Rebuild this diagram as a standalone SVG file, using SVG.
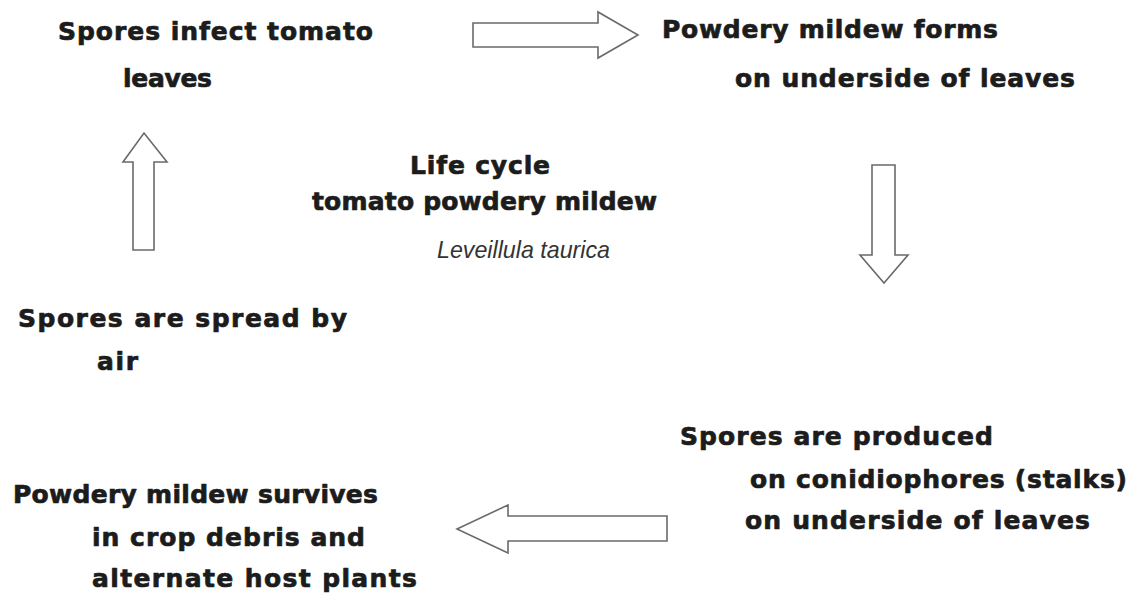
<svg xmlns="http://www.w3.org/2000/svg" width="1134" height="601" viewBox="0 0 1134 601">
<style>
.t{font-family:"DejaVu Sans","Liberation Sans",sans-serif;font-weight:bold;font-size:25px;fill:#1c1c1c;stroke:#1c1c1c;stroke-width:0.7;stroke-linejoin:round}
.it{font-family:"Liberation Sans","DejaVu Sans",sans-serif;font-style:italic;font-size:24px;fill:#333}
.arr{fill:#fff;stroke:#6a6a6a;stroke-width:1.6;stroke-linejoin:miter}
</style>
<rect width="1134" height="601" fill="#fff"/>
<g id="connectors">
<polygon class="arr" points="473,23 598,23 598,12 638,35 598,58 598,47 473,47"/>
<polygon class="arr" points="872,165 895,165 895,255 908,255 884,283 860,255 872,255"/>
<polygon class="arr" points="667,516 508,516 508,505 457,529 508,553 508,541 667,541"/>
<polygon class="arr" points="133,250 133,162 123,162 144,133 167,162 154,162 154,250"/>
</g>
<g id="node-infect">
<text class="t" x="58" y="40" textLength="315" lengthAdjust="spacing">Spores infect tomato</text>
<text class="t" x="123" y="87" textLength="89" lengthAdjust="spacing">leaves</text>
</g>
<g id="node-forms">
<text class="t" x="662" y="38" textLength="336" lengthAdjust="spacing">Powdery mildew forms</text>
<text class="t" x="735" y="87" textLength="340" lengthAdjust="spacing">on underside of leaves</text>
</g>
<g id="node-produced">
<text class="t" x="680" y="445" textLength="313" lengthAdjust="spacing">Spores are produced</text>
<text class="t" x="750" y="488" textLength="377" lengthAdjust="spacing">on conidiophores (stalks)</text>
<text class="t" x="745" y="529" textLength="345" lengthAdjust="spacing">on underside of leaves</text>
</g>
<g id="node-survives">
<text class="t" x="13" y="503" textLength="365" lengthAdjust="spacing">Powdery mildew survives</text>
<text class="t" x="92" y="546" textLength="273" lengthAdjust="spacing">in crop debris and</text>
<text class="t" x="92" y="587" textLength="325" lengthAdjust="spacing">alternate host plants</text>
</g>
<g id="node-spread">
<text class="t" x="18" y="327" textLength="329" lengthAdjust="spacing">Spores are spread by</text>
<text class="t" x="97" y="370" textLength="41" lengthAdjust="spacing">air</text>
</g>
<g id="title">
<text class="t" x="410" y="174" textLength="140" lengthAdjust="spacing">Life cycle</text>
<text class="t" x="312" y="210" textLength="345" lengthAdjust="spacing">tomato powdery mildew</text>
<text class="it" x="437" y="258" textLength="173" lengthAdjust="spacingAndGlyphs">Leveillula taurica</text>
</g>
</svg>
